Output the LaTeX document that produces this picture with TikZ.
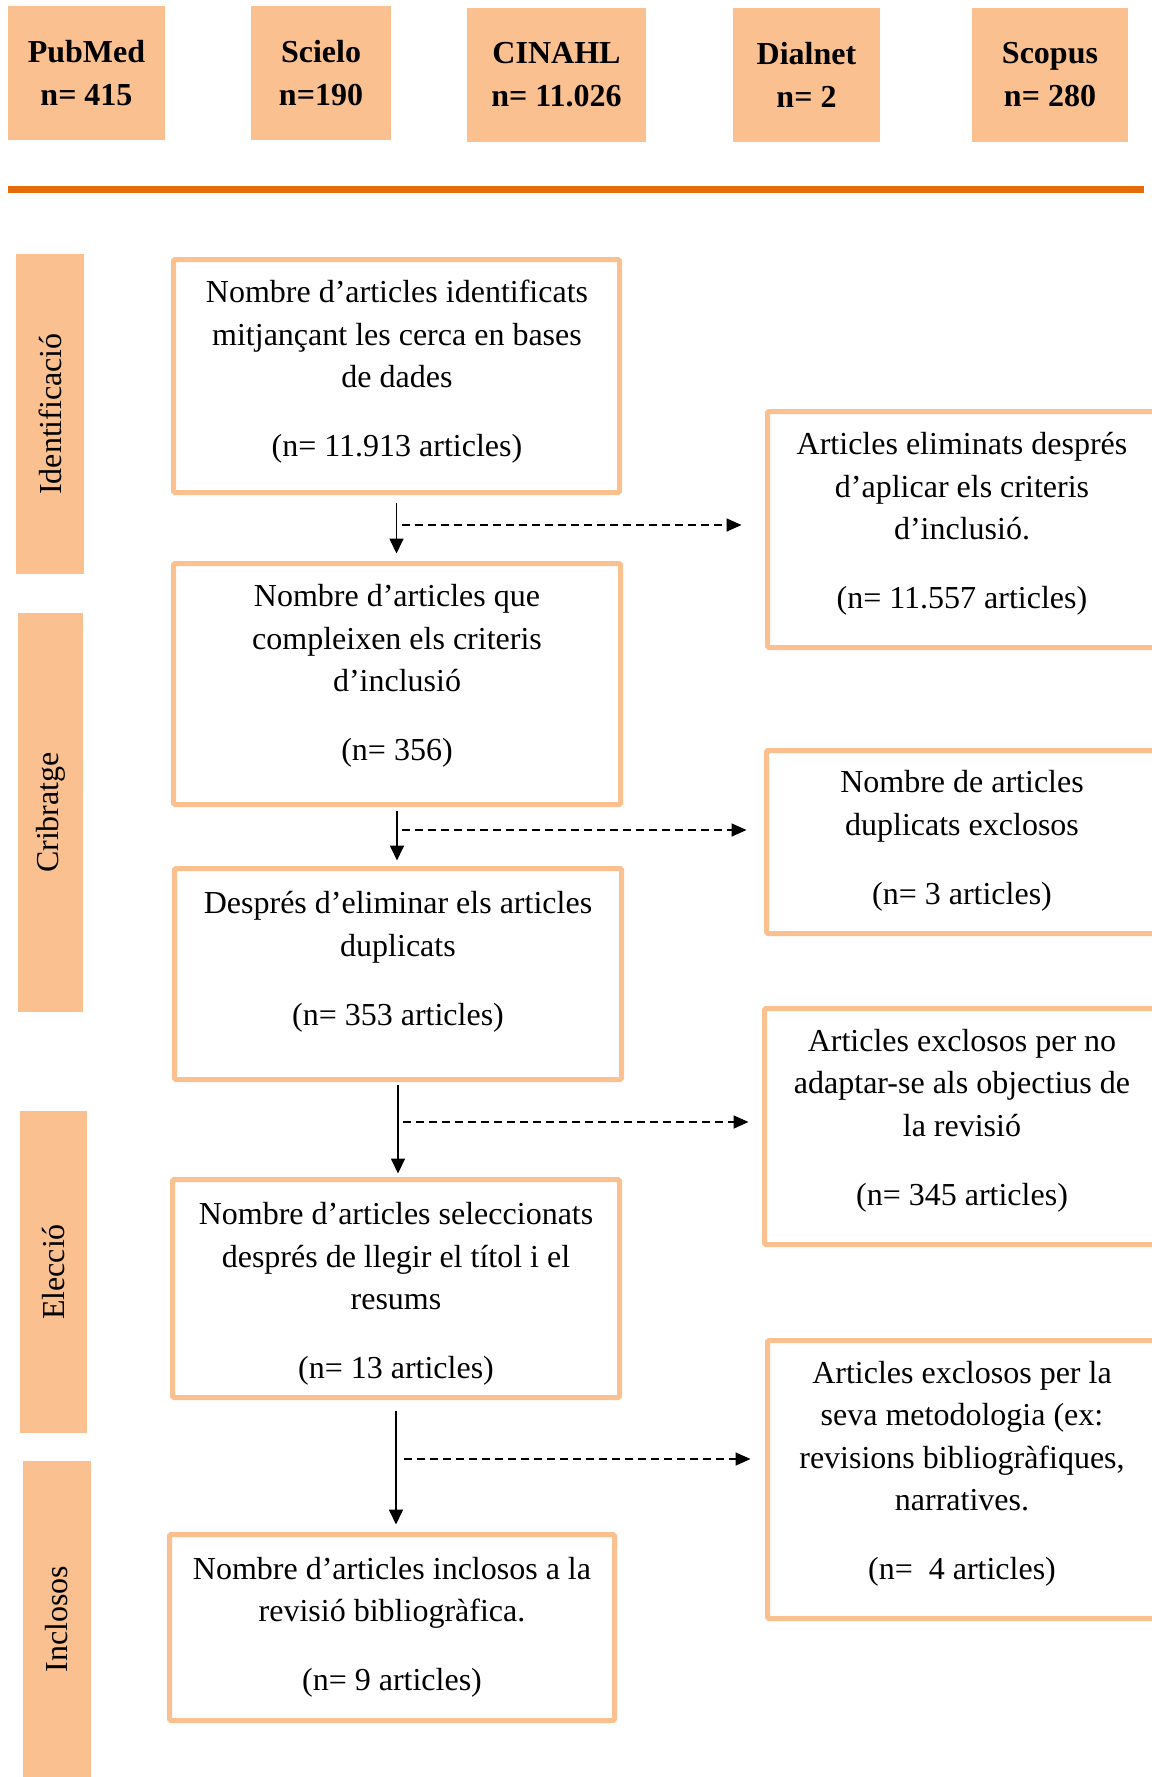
\documentclass[tikz,border=0pt]{standalone}
\usepackage{fontspec}
\setmainfont{Liberation Serif}
\usetikzlibrary{arrows.meta,calc}
\definecolor{peach}{HTML}{FAC090}
\definecolor{darkorange}{HTML}{E46C0A}
\begin{document}
\begin{tikzpicture}[x=1pt,y=-1pt,
  hdr/.style={fill=peach, draw=none, font=\fontsize{32}{43}\selectfont\bfseries, align=center, inner sep=0pt},
  side/.style={fill=peach, draw=none, inner sep=0pt, rotate=90, font=\fontsize{32}{40}\selectfont},
  boxs/.style={draw=peach, line width=5pt, fill=white, inner sep=0pt, rounded corners=1.5pt},
  btext/.style={align=center, font=\fontsize{32}{42.5}\selectfont, inner sep=0pt},
  flow/.style={line width=1.7pt, -{Triangle[length=15pt,width=14pt]}},
  dflow/.style={line width=1.6pt, dash pattern=on 8pt off 5pt, -{Triangle[length=15pt,width=13pt]}}
]
\useasboundingbox (0,0) rectangle (1151,1777);

% header databases
\node[hdr, minimum width=157pt, minimum height=134pt] (pubmed) at (86.5,73) {PubMed\\n= 415};
\node[hdr, minimum width=140pt, minimum height=134pt] (scielo) at (321,73) {Scielo\\n=190};
\node[hdr, minimum width=179pt, minimum height=134pt] (cinahl) at (556.5,75) {CINAHL\\n= 11.026};
\node[hdr, minimum width=147pt, minimum height=134pt] (dialnet) at (806.5,75) {Dialnet\\n= 2};
\node[hdr, minimum width=156pt, minimum height=134pt] (scopus) at (1050,75) {Scopus\\n= 280};

% separator
\coordinate (sepL) at (8,189);
\coordinate (sepR) at (1144,189);
\draw[darkorange, line width=7pt] (sepL) -- (sepR);

% side bars
\node[side, minimum width=320pt, minimum height=68pt] (s1) at (50,414) {Identificació};
\node[side, minimum width=399pt, minimum height=65pt] (s2) at (50.5,812.5) {Cribratge};
\node[side, minimum width=322pt, minimum height=67pt] (s3) at (53.5,1272) {Elecció};
\node[side, minimum width=316pt, minimum height=68pt] (s4) at (57,1619) {Inclosos};

% left boxes
\node[boxs, minimum width=446pt, minimum height=233pt] (b1) at (396.5,376) {};
\node[boxs, minimum width=447pt, minimum height=241pt] (b2) at (397,684) {};
\node[boxs, minimum width=447pt, minimum height=211pt] (b3) at (398,974) {};
\node[boxs, minimum width=447pt, minimum height=218pt] (b4) at (396,1288.5) {};
\node[boxs, minimum width=445pt, minimum height=186pt] (b5) at (392,1627.5) {};

\node[btext] (t1) at (397,372) {Nombre d’articles identificats\\mitjançant les cerca en bases\\de dades\\[26.5pt](n= 11.913 articles)};
\node[btext] (t2) at (397,676) {Nombre d’articles que\\compleixen els criteris\\d’inclusió\\[26.5pt](n= 356)};
\node[btext] (t3) at (398,962) {Després d’eliminar els articles\\duplicats\\[26.5pt](n= 353 articles)};
\node[btext] (t4) at (396,1294) {Nombre d’articles seleccionats\\després de llegir el títol i el\\resums\\[26.5pt](n= 13 articles)};
\node[btext] (t5) at (392,1627.5) {Nombre d’articles inclosos a la\\revisió bibliogràfica.\\[26.5pt](n= 9 articles)};

% right boxes
\node[boxs, minimum width=395pt, minimum height=236pt] (r1) at (965,529.5) {};
\node[boxs, minimum width=396pt, minimum height=183pt] (r2) at (964.5,842) {};
\node[boxs, minimum width=398pt, minimum height=236pt] (r3) at (963.5,1126.5) {};
\node[boxs, minimum width=395pt, minimum height=278pt] (r4) at (965,1479.5) {};

\node[btext] (u1) at (962,524) {Articles eliminats després\\d’aplicar els criteris\\d’inclusió.\\[26.5pt](n= 11.557 articles)};
\node[btext] (u2) at (962,841) {Nombre de articles\\duplicats exclosos\\[26.5pt](n= 3 articles)};
\node[btext] (u3) at (962,1120.5) {Articles exclosos per no\\adaptar-se als objectius de\\la revisió\\[26.5pt](n= 345 articles)};
\node[btext] (u4) at (962,1474) {Articles exclosos per la\\seva metodologia (ex:\\revisions bibliogràfiques,\\narratives.\\[26.5pt](n=\ \ 4 articles)};

% vertical arrows
\draw[flow, shorten <=7.5pt, shorten >=7.5pt] (b1.south) -- (b1.south |- b2.north);
\draw[flow, shorten <=3.5pt, shorten >=5.5pt] (b2.south) -- (b2.south |- b3.north);
\draw[flow, shorten <=2.5pt, shorten >=3.5pt] (b3.south) -- (b3.south |- b4.north);
\draw[flow, shorten <=10.5pt, shorten >=7.5pt] (b4.south) -- (b4.south |- b5.north);

% dashed arrows
\coordinate (d1) at (401.5,525);
\coordinate (d2) at (402,830);
\coordinate (d3) at (403,1122);
\coordinate (d4) at (404,1459);
\draw[dflow, shorten >=23.5pt] (d1) -- (d1 -| r1.west);
\draw[dflow, shorten >=17.5pt] (d2) -- (d2 -| r2.west);
\draw[dflow, shorten >=13.5pt] (d3) -- (d3 -| r3.west);
\draw[dflow, shorten >=14.5pt] (d4) -- (d4 -| r4.west);
\end{tikzpicture}
\end{document}
